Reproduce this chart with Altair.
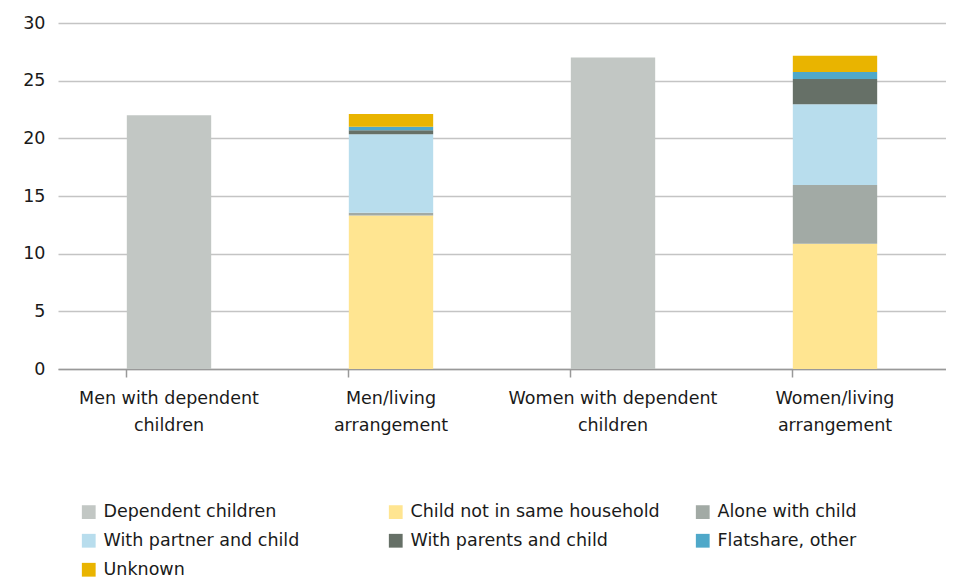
import altair as alt
import pandas as pd

groups = ["Men with dependent children", "Men/living arrangement",
          "Women with dependent children", "Women/living arrangement"]
label_lines = {
    "Men with dependent children": ["Men with dependent", "children"],
    "Men/living arrangement": ["Men/living", "arrangement"],
    "Women with dependent children": ["Women with dependent", "children"],
    "Women/living arrangement": ["Women/living", "arrangement"],
}
series = ["Dependent children", "Child not in same household", "Alone with child",
          "With partner and child", "With parents and child", "Flatshare, other", "Unknown"]
colors = ["#c2c7c4", "#ffe591", "#a2aaa5", "#b8dded", "#667067", "#4fa8c9", "#e9b400"]

dependent_children = [22.0, 0, 27.0, 0]
child_not_same = [0, 13.3, 0, 10.85]
alone_with_child = [0, 0.25, 0, 5.1]
with_partner = [0, 6.8, 0, 7.0]
with_parents = [0, 0.35, 0, 2.2]
flatshare = [0, 0.3, 0, 0.6]
unknown = [0, 1.1, 0, 1.4]

values = [dependent_children, child_not_same, alone_with_child, with_partner,
          with_parents, flatshare, unknown]

rows = []
for si, (s, vals) in enumerate(zip(series, values)):
    for g, v in zip(groups, vals):
        if v > 0:
            rows.append({"group": g, "series": s, "value": v, "order": si})
df = pd.DataFrame(rows)

expr = "".join(
    f"datum.label == '{k}' ? {v!r} : " for k, v in label_lines.items()
) + "datum.label"

FONT = "DejaVu Sans"
FS = 17.5

chart = alt.Chart(df).mark_bar().encode(
    x=alt.X("group:N", sort=groups, title=None,
            scale=alt.Scale(paddingInner=0.62, paddingOuter=0.31),
            axis=alt.Axis(labelAngle=0, labelExpr=expr, bandPosition=0,
                          tickSize=8, tickColor="#999999", tickWidth=1.5,
                          domainColor="#999999", domainWidth=1.5,
                          labelPadding=12, labelFontSize=FS, labelFont=FONT,
                          labelColor="#1a1a1a", labelLineHeight=27, labelLimit=0)),
    y=alt.Y("value:Q", title=None,
            scale=alt.Scale(domain=[0, 30]),
            axis=alt.Axis(values=[0, 5, 10, 15, 20, 25, 30], domain=False, ticks=False,
                          gridColor="#c4c4c4", gridWidth=1.5, labelPadding=13,
                          labelFontSize=FS, labelFont=FONT, labelColor="#1a1a1a")),
    color=alt.Color("series:N", sort=series,
                    scale=alt.Scale(domain=series, range=colors),
                    legend=alt.Legend(title=None, orient="none", legendX=22, legendY=480,
                                      columns=3, direction="horizontal", gridAlign="all",
                                      columnPadding=34, rowPadding=10,
                                      symbolType="square", symbolSize=190,
                                      symbolStrokeWidth=0, labelFontSize=FS,
                                      labelFont=FONT, labelColor="#1a1a1a",
                                      labelOffset=6, labelLimit=0)),
    order=alt.Order("order:Q"),
).properties(
    width=888, height=346,
    padding={"top": 6, "left": 14, "right": 0, "bottom": 0},
).configure_view(stroke=None)

chart.save("out.html", embed_options={"renderer": "svg", "actions": False})
